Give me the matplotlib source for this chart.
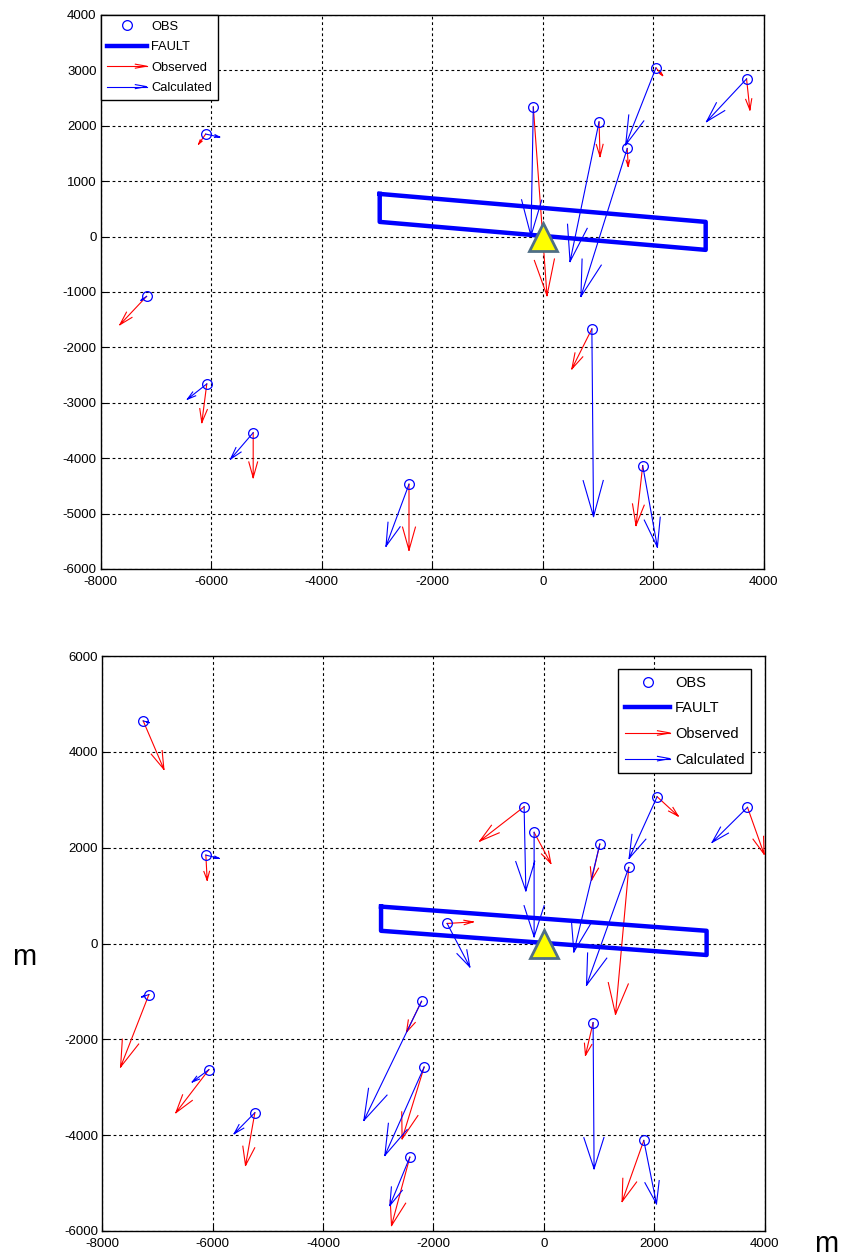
import numpy as np
import matplotlib
matplotlib.use("Agg")
import matplotlib.pyplot as plt
from matplotlib.lines import Line2D
from matplotlib.legend_handler import HandlerBase

plt.rcParams['font.family'] = ['Liberation Sans', 'DejaVu Sans']
plt.rcParams['axes.unicode_minus'] = False

########## Data (metres) ##########

# fault outline (closed polygon)
fault_x = [-2950, 2950, 2950, -2950, -2950]
fault_y = [770, 265, -240, 265, 770]

# top panel: stations and displacement arrows (plotted length)
top_x = [-6100, -7170, -6080, -5240, -2420, -170, 1020, 1530, 2050, 3690, 890, 1810]
top_y = [1850, -1080, -2660, -3540, -4470, 2340, 2070, 1590, 3045, 2846, -1666, -4133]
top_obs_u = [-127, -483, -90, 0, 0, 248, 18, 18, 121, 60, -362, -121]
top_obs_v = [-180, -511, -698, -812, -1191, -3406, -626, -325, -139, -560, -722, -1083]
top_cal_u = [253, -100, -351, -409, -416, -42, -525, -838, -548, -724, 30, 266]
top_cal_v = [-54, -70, -276, -475, -1119, -2329, -2521, -2671, -1390, -771, -3388, -1474]

# bottom panel
bot_x = [-7260, -6125, -7157, -6070, -5237, -2216, -2169, -2428, 893, 1812,
         -357, -176, -1752, 1015, 1540, 2053, 3691]
bot_y = [4646, 1845, -1066, -2633, -3532, -1206, -2579, -4460, -1651, -4111,
         2855, 2320, 418, 2075, 1588, 3064, 2842]
bot_obs_u = [375, 24, -513, -598, -169, -272, -399, -332, -138, -393,
             -803, 303, 471, -150, -241, 381, 301]
bot_obs_v = [-1010, -523, -1511, -899, -1101, -641, -1498, -1428, -683, -1275,
             -717, -648, 33, -752, -3066, -403, -976]
bot_cal_u = [110, 241, -132, -302, -375, -1045, -712, -362, 18, 230,
             31, 0, 411, -471, -766, -507, -641]
bot_cal_v = [-35, -69, -50, -258, -439, -2487, -1846, -1010, -3051, -1323,
             -1756, -2180, -907, -2251, -2460, -1287, -731]

# reference station (triangle)
ref_x = [0]
ref_y = [0]

x_ticks = [-8000, -6000, -4000, -2000, 0, 2000, 4000]
top_yticks = list(range(-6000, 4001, 1000))
bot_yticks = list(range(-6000, 6001, 2000))


def quiver_lines(x, y, u, v, alpha=0.35, beta=0.28, maxhead=650):
    # matlab-like quiver: shaft + open V head, returned as one NaN-separated polyline
    xs, ys = [], []
    for x0, y0, du, dv in zip(x, y, u, v):
        L = np.hypot(du, dv)
        a = min(alpha * L, maxhead) / L
        tx, ty = x0 + du, y0 + dv
        xs += [x0, tx, np.nan,
               tx - a * (du + beta * dv), tx, tx - a * (du - beta * dv), np.nan]
        ys += [y0, ty, np.nan,
               ty - a * (dv - beta * du), ty, ty - a * (dv + beta * du), np.nan]
    return xs, ys


class ArrowHandler(HandlerBase):
    def create_artists(self, legend, orig_handle, xdescent, ydescent,
                       width, height, fontsize, trans):
        c = orig_handle.get_color()
        yc = height / 2.0 - ydescent
        x0, x1 = -xdescent, width - xdescent
        hl = 0.28 * width
        hw = 0.22 * height
        shaft = Line2D([x0, x1], [yc, yc], color=c, lw=0.8)
        head = Line2D([x1 - hl, x1, x1 - hl], [yc + hw, yc, yc - hw], color=c, lw=0.8)
        shaft.set_transform(trans)
        head.set_transform(trans)
        return [shaft, head]


def draw_panel(ax, sx, sy, ou, ov, cu, cv, yticks, leg_loc, leg_fs, leg_pad, leg_space):
    ax.set_axisbelow(True)
    ax.grid(True, color='black', linestyle=(0, (2.5, 2.5)), linewidth=0.8)

    xo, yo = quiver_lines(sx, sy, ou, ov)
    ax.plot(xo, yo, color='red', lw=0.8, zorder=3)
    xc, yc = quiver_lines(sx, sy, cu, cv)
    ax.plot(xc, yc, color='blue', lw=0.8, zorder=3)

    obs, = ax.plot(sx, sy, 'o', mfc='none', mec='blue', ms=7, mew=0.9, zorder=4)
    flt, = ax.plot(fault_x, fault_y, color='blue', lw=3.2, zorder=5)
    ax.plot(ref_x, ref_y, '^', ms=20, mfc='yellow', mec='#4f6f86', mew=2, zorder=6)

    h_obs = Line2D([], [], color='red')
    h_cal = Line2D([], [], color='blue')
    leg = ax.legend([obs, flt, h_obs, h_cal], ['OBS', 'FAULT', 'Observed', 'Calculated'],
                    loc=leg_loc, fontsize=leg_fs, fancybox=False, framealpha=1,
                    edgecolor='black', borderaxespad=leg_pad, handlelength=3.1,
                    handletextpad=0.35, labelspacing=leg_space, borderpad=0.45,
                    handler_map={h_obs: ArrowHandler(), h_cal: ArrowHandler()})
    leg.get_frame().set_linewidth(1.0)
    leg.set_zorder(10)

    ax.set_xlim(-8000, 4000)
    ax.set_xticks(x_ticks)
    ax.set_ylim(yticks[0], yticks[-1])
    ax.set_yticks(yticks)
    ax.tick_params(direction='in', length=4, labelsize=9.5)
    ax.tick_params(axis='x', pad=5)
    ax.tick_params(axis='y', pad=3)
    for s in ax.spines.values():
        s.set_linewidth(1.0)
        s.set_color('black')


fig = plt.figure(figsize=(8.42, 12.58), dpi=100)

ax1 = fig.add_axes([0.1196, 0.5477, 0.7874, 0.4404])
draw_panel(ax1, top_x, top_y, top_obs_u, top_obs_v, top_cal_u, top_cal_v,
           top_yticks, 'upper left', 9.3, 0.0, 0.65)

ax2 = fig.add_axes([0.1216, 0.0215, 0.7864, 0.4570])
draw_panel(ax2, bot_x, bot_y, bot_obs_u, bot_obs_v, bot_cal_u, bot_cal_v,
           bot_yticks, 'upper right', 10.5, 0.9, 0.8)

fig.text(24 / 842, 1 - 965 / 1258, 'm', fontsize=21, ha='center', va='baseline')
fig.text(826 / 842, 1 - 1252 / 1258, 'm', fontsize=21, ha='center', va='baseline')

fig.savefig('out.png', dpi=100)
